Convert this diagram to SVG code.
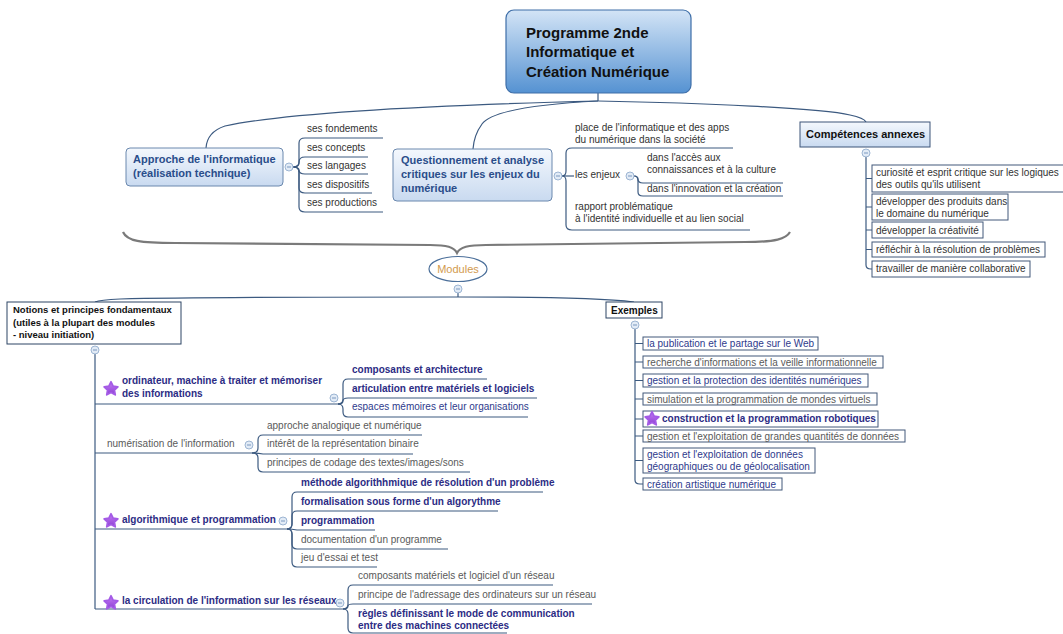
<svg xmlns="http://www.w3.org/2000/svg" xmlns:xlink="http://www.w3.org/1999/xlink" width="1063" height="634" viewBox="0 0 1063 634">
<style>
.c{fill:none;stroke:#3c5a80;stroke-width:1.2}
.t{font-family:"Liberation Sans",Arial,sans-serif;font-size:10px;fill:#333}
.g{fill:#5a5a5a}
.bl{fill:#2e3a8c}
.bb{font-weight:bold;fill:#2c2c84}
.nb{font-family:"Liberation Sans",Arial,sans-serif;font-size:11px;font-weight:bold;fill:#2a4d8a}
.k{font-family:"Liberation Sans",Arial,sans-serif;font-weight:bold;fill:#111}
.box{fill:#fff;stroke:#42587a;stroke-width:1}
</style>
<defs>
<linearGradient id="gc" x1="0" y1="0" x2="0" y2="1"><stop offset="0" stop-color="#d3e4f6"/><stop offset="1" stop-color="#5592d2"/></linearGradient>
<linearGradient id="gn" x1="0" y1="0" x2="0" y2="1"><stop offset="0" stop-color="#f4f8fd"/><stop offset="1" stop-color="#c9daf0"/></linearGradient>
<linearGradient id="gs" x1="0" y1="0" x2="0" y2="1"><stop offset="0" stop-color="#c77cf5"/><stop offset="1" stop-color="#8a3fd2"/></linearGradient>
<g id="cc"><circle r="4" fill="#e2ebf6" stroke="#9db5d3" stroke-width="1"/><line x1="-2" y1="0" x2="2" y2="0" stroke="#7b98bf" stroke-width="1"/></g>
<g id="star"><polygon points="0,-7.2 2.1,-2.9 6.85,-2.23 3.4,1.1 4.23,5.83 0,3.55 -4.23,5.83 -3.4,1.1 -6.85,-2.23 -2.1,-2.9" fill="url(#gs)" stroke="#a45be6" stroke-width="1.8" stroke-linejoin="round"/></g>
</defs>
<rect width="1063" height="634" fill="#fff"/>

<g id="connectors">
<path class="c" d="M598,93 V101"/>
<path class="c" d="M598,101 C480,104 300,110 225,126 Q207,132 206,148"/>
<path class="c" d="M598,101 C540,104 492,110 482,124 Q474,135 473,149"/>
<path class="c" d="M598,101 C700,103 820,108 850,115 Q864,118 866,122"/>
<path class="c" d="M293,167 Q299,167 299,162 V143 Q299,138 305,138 H383"/>
<path class="c" d="M293,167 Q299,167 299,163 V162 Q299,157 305,157 H368"/>
<path class="c" d="M293,167 Q299,167 299,170 Q299,174 305,174 H368"/>
<path class="c" d="M293,167 Q299,167 299,172 V188 Q299,193 305,193 H372"/>
<path class="c" d="M293,167 Q299,167 299,172 V207 Q299,212 305,212 H383"/>
<path class="c" d="M562,176 Q566,176 566,171 V153 Q566,148 572,148 H733"/>
<path class="c" d="M562,176 H574"/>
<path class="c" d="M562,176 Q566,176 566,181 V225 Q566,230 572,230 H750"/>
<path class="c" d="M634,176 Q638,176 638,179 Q638,183 643,183 H783"/>
<path class="c" d="M634,176 Q638,176 638,181 V192 Q638,196 643,196 H783"/>
<path class="c" d="M866,157 V265 Q866,269 871,269 H872"/>
<path class="c" d="M866,178.5 H872 M866,207 H872 M866,230 H872 M866,249.5 H872"/>
<path fill="none" stroke="#7a7a7a" stroke-width="2.2" d="M123,232 C127,241 140,243 175,243 L430,245 C447,245 454,247 457,253 C460,247 468,245 486,245 L745,242 C776,242 786,239 790,232"/>
<path class="c" d="M458,293 V297"/>
<path class="c" d="M458,297 C380,297 200,297 120,299 Q100,300 95,302"/>
<path class="c" d="M458,297 C520,297 600,298 634,302"/>
<path class="c" d="M95,354 V609"/>
<path class="c" d="M95,404 H340 M95,453 H252 M95,529 H287 M95,609 H343"/>
<path class="c" d="M338,404 Q343,404 343,399 V384 Q343,379 348,379 H487"/>
<path class="c" d="M338,404 Q343,404 343,401 Q343,398 348,398 H537"/>
<path class="c" d="M338,404 Q343,404 343,409 V412 Q343,417 348,417 H528"/>
<path class="c" d="M252,453 Q258,453 258,448 V440 Q258,435 263,435 H422"/>
<path class="c" d="M252,453 Q258,453 263,454 H413"/>
<path class="c" d="M252,453 Q258,453 258,458 V467 Q258,472 263,472 H470"/>
<path class="c" d="M287,529 Q292,529 292,524 V497 Q292,492 297,492 H543"/>
<path class="c" d="M287,529 Q292,529 292,524 V516 Q292,511 297,511 H498"/>
<path class="c" d="M287,529 Q292,529 297,530 H375"/>
<path class="c" d="M287,529 Q292,529 292,534 V544 Q292,549 297,549 H448"/>
<path class="c" d="M287,529 Q292,529 292,534 V562 Q292,567 297,567 H377"/>
<path class="c" d="M343,609 Q348,609 348,604 V590 Q348,585 353,585 H553"/>
<path class="c" d="M343,609 Q348,609 348,606 Q348,604 353,604 H592"/>
<path class="c" d="M343,609 Q348,609 348,614 V628 Q348,633 353,633 H507"/>
<path class="c" d="M635,329 V480 Q635,484 640,484 H643"/>
<path class="c" d="M635,343.5 H643 M635,362 H643 M635,380.5 H643 M635,399 H643 M635,419 H643 M635,436 H643 M635,460.5 H643"/>
</g>

<g id="root">
<rect x="506" y="10" width="185" height="83" rx="8" fill="url(#gc)" stroke="#3e6ea8" stroke-width="1.2"/>
<text class="k" font-size="15" x="526" y="38">Programme 2nde</text>
<text class="k" font-size="15" x="526" y="57">Informatique et</text>
<text class="k" font-size="15" x="526" y="77">Création Numérique</text>
</g>

<g id="approche">
<rect x="126" y="148" width="157" height="38" rx="4" fill="url(#gn)" stroke="#6a88ae" stroke-width="1"/>
<text class="nb" x="133" y="163">Approche de l'informatique</text>
<text class="nb" x="133" y="177">(réalisation technique)</text>
<use href="#cc" x="289" y="167"/>
</g>
<g id="approche-children">
<text class="t" x="307" y="132">ses fondements</text>
<text class="t" x="307" y="151">ses concepts</text>
<text class="t" x="307" y="169">ses langages</text>
<text class="t" x="307" y="188">ses dispositifs</text>
<text class="t" x="307" y="206">ses productions</text>
</g>

<g id="questionnement">
<rect x="393" y="149" width="159" height="52" rx="4" fill="url(#gn)" stroke="#6a88ae" stroke-width="1"/>
<text class="nb" x="401" y="164">Questionnement et analyse</text>
<text class="nb" x="401" y="178">critiques sur les enjeux du</text>
<text class="nb" x="401" y="192">numérique</text>
<use href="#cc" x="558" y="176"/>
</g>
<g id="questionnement-children">
<text class="t" x="575" y="131">place de l'informatique et des apps</text>
<text class="t" x="575" y="143">du numérique dans la société</text>
<text class="t" x="575" y="178">les enjeux</text>
<use href="#cc" x="630" y="176"/>
<text class="t" x="647" y="161">dans l'accès aux</text>
<text class="t" x="647" y="173">connaissances et à la culture</text>
<text class="t" x="647" y="192">dans l'innovation et la création</text>
<text class="t" x="575" y="210">rapport problématique</text>
<text class="t" x="575" y="222">à l'identité individuelle et au lien social</text>
</g>

<g id="competences">
<rect x="800" y="122" width="130" height="25" fill="url(#gn)" stroke="#3c5478" stroke-width="1"/>
<text class="k" font-size="11" x="806" y="138">Compétences annexes</text>
<use href="#cc" x="866" y="153"/>
</g>
<g id="competences-children">
<rect class="box" x="872" y="165" width="195" height="27"/>
<text class="t" x="876" y="176">curiosité et esprit critique sur les logiques</text>
<text class="t" x="876" y="188">des outils qu'ils utilisent</text>
<rect class="box" x="872" y="194" width="136" height="26"/>
<text class="t" x="876" y="205">développer des produits  dans</text>
<text class="t" x="876" y="217"> le domaine du numérique</text>
<rect class="box" x="872" y="222" width="111" height="16"/>
<text class="t" x="876" y="234">développer la créativité</text>
<rect class="box" x="872" y="242" width="173" height="15"/>
<text class="t" x="876" y="253">réfléchir à la résolution de problèmes</text>
<rect class="box" x="872" y="261" width="158" height="16"/>
<text class="t" x="876" y="272">travailler de manière collaborative</text>
</g>

<g id="modules">
<ellipse cx="458" cy="269" rx="29" ry="12.5" fill="#fff" stroke="#4b6f9a" stroke-width="1.2"/>
<text x="458" y="273" text-anchor="middle" font-family="Liberation Sans, Arial, sans-serif" font-size="11" fill="#d29a4e">Modules</text>
<use href="#cc" x="458" y="289"/>
</g>

<g id="notions">
<rect x="7" y="302" width="174" height="42" fill="#fff" stroke="#2d4565" stroke-width="1"/>
<text class="k" font-size="9.5" x="13" y="313">Notions et principes fondamentaux</text>
<text class="k" font-size="9.5" x="13" y="326">(utiles à la plupart des modules</text>
<text class="k" font-size="9.5" x="13" y="338">- niveau initiation)</text>
<use href="#cc" x="95" y="350"/>
</g>

<g id="ordinateur">
<use href="#star" x="111" y="389"/>
<text class="t bb" x="122" y="384">ordinateur, machine à traiter et mémoriser</text>
<text class="t bb" x="122" y="397">des informations</text>
<use href="#cc" x="334" y="398"/>
<text class="t bb" x="352" y="373">composants et architecture</text>
<text class="t bb" x="352" y="392">articulation entre matériels et logiciels</text>
<text class="t bl" x="352" y="410">espaces mémoires et leur organisations</text>
</g>

<g id="numerisation">
<text class="t g" x="107" y="447">numérisation de l'information</text>
<use href="#cc" x="249" y="445"/>
<text class="t g" x="267" y="429">approche analogique et numérique</text>
<text class="t g" x="267" y="447">intérêt de la représentation binaire</text>
<text class="t g" x="267" y="466">principes de codage des textes/images/sons</text>
</g>

<g id="algorithmique">
<use href="#star" x="111" y="521"/>
<text class="t bb" x="122" y="523">algorithmique et programmation</text>
<use href="#cc" x="283" y="521"/>
<text class="t bb" x="301" y="486">méthode algorithhmique de résolution d'un problème</text>
<text class="t bb" x="301" y="505">formalisation sous forme d'un algorythme</text>
<text class="t bb" x="301" y="524">programmation</text>
<text class="t g" x="301" y="543">documentation d'un programme</text>
<text class="t g" x="301" y="561">jeu d'essai et test</text>
</g>

<g id="reseaux">
<use href="#star" x="111" y="603"/>
<text class="t bb" x="122" y="604">la circulation de l'information sur les réseaux</text>
<use href="#cc" x="340" y="603"/>
<text class="t g" x="358" y="579">composants matériels et logiciel d'un réseau</text>
<text class="t g" x="358" y="598">principe de l'adressage des ordinateurs sur un réseau</text>
<text class="t bb" x="358" y="617">règles définissant le mode de communication</text>
<text class="t bb" x="358" y="629">entre des machines connectées</text>
</g>

<g id="exemples">
<rect x="606" y="302" width="56" height="16" fill="#fff" stroke="#2d4565" stroke-width="1"/>
<text class="k" font-size="10" x="611" y="314">Exemples</text>
<use href="#cc" x="635" y="325"/>
</g>
<g id="exemples-children">
<rect class="box" x="643" y="337" width="175" height="13"/>
<text class="t bl" x="647" y="347">la publication et le partage sur le Web</text>
<rect class="box" x="643" y="356" width="240" height="12"/>
<text class="t g" x="647" y="366">recherche d'informations et la veille informationnelle</text>
<rect class="box" x="643" y="374" width="225" height="13"/>
<text class="t bl" x="647" y="384">gestion et la protection des identités numériques</text>
<rect class="box" x="643" y="393" width="234" height="12"/>
<text class="t g" x="647" y="403">simulation et la programmation de mondes virtuels</text>
<rect class="box" x="643" y="411" width="235" height="16"/>
<use href="#star" x="652" y="419"/>
<text class="t bb" x="662" y="422">construction et la programmation robotiques</text>
<rect class="box" x="643" y="430" width="262" height="12"/>
<text class="t g" x="647" y="440">gestion et l'exploitation de grandes quantités de données</text>
<rect class="box" x="643" y="448" width="172" height="25"/>
<text class="t bl" x="647" y="458">gestion et l'exploitation de données</text>
<text class="t bl" x="647" y="470">géographiques ou de géolocalisation</text>
<rect class="box" x="643" y="478" width="139" height="12"/>
<text class="t bl" x="647" y="488">création artistique numérique</text>
</g>
</svg>
